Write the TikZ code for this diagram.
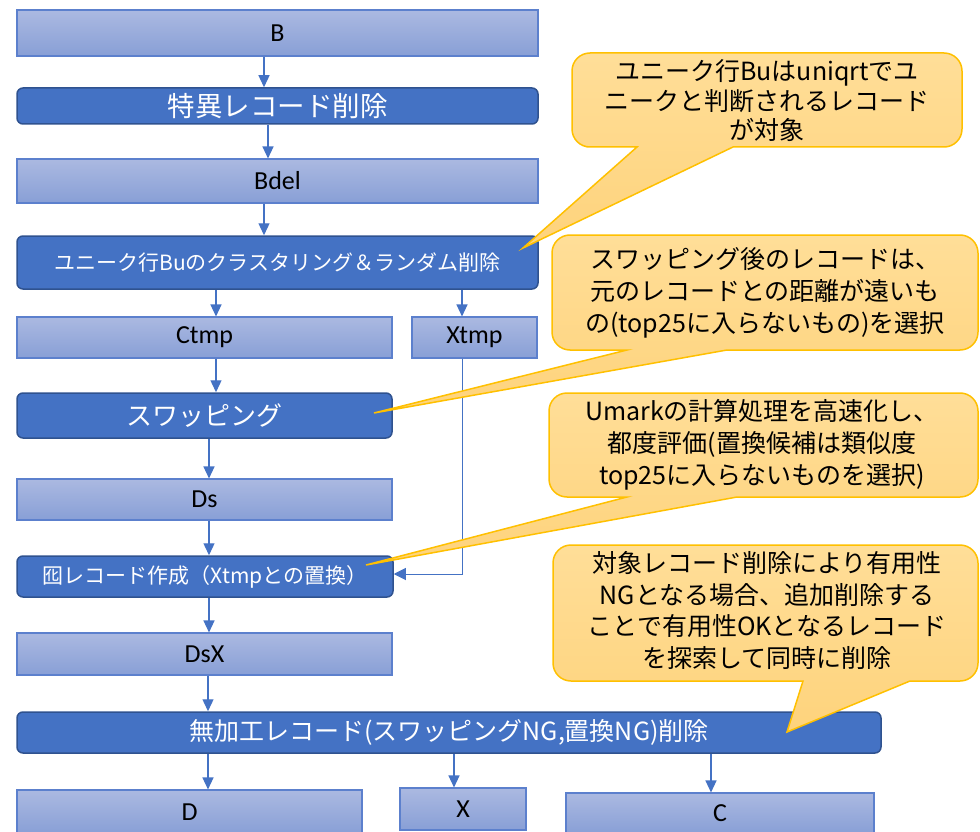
\documentclass[tikz,border=0pt]{standalone}
\usepackage{fontspec}
\setmainfont{Noto Sans CJK JP}
\newfontfamily\latf{Carlito}
\usetikzlibrary{arrows.meta}
\definecolor{acc}{HTML}{4472C4}
\definecolor{accdark}{HTML}{2F528F}
\definecolor{databorder}{RGB}{92,128,205}
\definecolor{datatop}{RGB}{171,185,225}
\definecolor{databot}{RGB}{136,159,214}
\definecolor{calltop}{RGB}{255,222,152}
\definecolor{callbot}{RGB}{254,211,124}
\definecolor{callline}{HTML}{FFC000}
\newcommand\datafont{\latf\fontsize{26}{26}\selectfont}
\newcommand\mycallout[8]{%
  \path[callout] (#5,#4) -- (#7,#8) -- (#6,#4) -- ({(#6+#3)/2},#4)
    [rounded corners=18pt] -- (#3,#4) -- (#3,#2) -- (#1,#2) -- (#1,#4) -- ({(#1+#5)/2},#4)
    [sharp corners] -- cycle;}
\begin{document}
\begin{tikzpicture}[x=1pt,y=-1pt,
  databox/.style 2 args={draw=databorder, line width=1.1pt, top color=datatop, bottom color=databot,
    minimum width=#1, minimum height=#2, inner sep=0pt, font=\datafont, text=black},
  procbox/.style 2 args={draw=accdark, line width=1.5pt, fill=acc, rounded corners=6pt,
    minimum width=#1, minimum height=#2, inner sep=0pt, text=white},
  arr/.style={draw=acc, line width=1.3pt, -{Triangle[length=12pt,width=11pt]}},
  thinarr/.style={draw=acc, line width=1pt, -{Triangle[length=12pt,width=12pt]}},
  callout/.style={draw=callline, line width=1.5pt, top color=calltop, bottom color=callbot},
  ctext/.style={align=center, text=black, inner sep=0pt},
]
\useasboundingbox (0,0) rectangle (980,832);

% data boxes
\node[databox={521pt}{46pt}] (B) at (277.5,33) {B};
\node[databox={521pt}{44pt}] (Bdel) at (277.5,181) {Bdel};
\node[databox={375pt}{41pt}] (Ctmp) at (204.5,337.5) {Ctmp};
\node[databox={125pt}{41pt}] (Xtmp) at (474.5,337.5) {Xtmp};
\node[databox={375pt}{41pt}] (Ds) at (204.5,499.5) {Ds};
\node[databox={375pt}{42pt}] (DsX) at (204.5,654) {DsX};
\node[databox={345pt}{44pt}] (D) at (189.5,812) {D};
\node[databox={126pt}{42pt}] (X) at (463,809) {X};
\node[databox={308pt}{41pt}] (C) at (720,813.5) {C};

% process boxes
\node[procbox={521pt}{36pt}, font=\fontsize{27.5}{28}\selectfont] (T1) at (277.5,106) {特異レコード削除};
\node[procbox={521pt}{53pt}, font=\fontsize{21}{22}\selectfont] (U) at (277.5,262.5) {ユニーク行Buのクラスタリング＆ランダム削除};
\node[procbox={375pt}{45pt}, font=\fontsize{26}{27}\selectfont] (S) at (204.5,415.5) {スワッピング};
\node[procbox={376pt}{41pt}, font=\fontsize{21}{22}\selectfont] (O) at (205,576.5) {囮レコード作成（Xtmpとの置換）};
\node[procbox={864pt}{41pt}, font=\fontsize{25}{26}\selectfont] (M) at (449,732.5) {無加工レコード(スワッピングNG,置換NG)削除};

% connector x positions
\coordinate (xa) at (264,0);
\coordinate (xb) at (268,0);
\coordinate (xc) at (216,0);
\coordinate (xd) at (462,0);
\coordinate (xe) at (209,0);
\coordinate (xf) at (208,0);
\coordinate (xg) at (454,0);
\coordinate (xh) at (711,0);
\coordinate (xj) at (462,574);

\draw[arr] (B.south -| xa) -- (T1.north -| xa);
\draw[arr] (T1.south -| xb) -- (Bdel.north -| xb);
\draw[arr] (Bdel.south -| xa) -- (U.north -| xa);
\draw[arr] (U.south -| xc) -- (Ctmp.north -| xc);
\draw[arr] (U.south -| xd) -- (Xtmp.north -| xd);
\draw[arr] (Ctmp.south -| xc) -- (S.north -| xc);
\draw[arr] (S.south -| xe) -- (Ds.north -| xe);
\draw[arr] (Ds.south -| xe) -- (O.north -| xe);
\draw[arr] (O.south -| xe) -- (DsX.north -| xe);
\draw[arr] (DsX.south -| xf) -- (M.north -| xf);
\draw[arr] (M.south -| xf) -- (D.north -| xf);
\draw[arr] (M.south -| xg) -- (X.north -| xg);
\draw[arr] (M.south -| xh) -- (C.north -| xh);
\draw[thinarr] (Xtmp.south -| xj) -- (xj) -- (O.east |- xj);

% callouts
\mycallout{572}{53}{962}{147}{637}{733}{523}{248}
\node[ctext, font=\fontsize{25}{29.5}\selectfont] (c1) at (767,101)
  {ユニーク行Buはuniqrtでユ\\ニークと判断されるレコード\\が対象};
\mycallout{552}{235}{978}{350}{627}{727}{374}{413}
\node[ctext, font=\fontsize{25}{32}\selectfont] (c2) at (765,292.5)
  {スワッピング後のレコードは、\\元のレコードとの距離が遠いも\\の(top25に入らないもの)を選択};
\mycallout{549}{393}{978}{497}{627}{737}{366}{565}
\node[ctext, font=\fontsize{25}{32}\selectfont] (c3) at (762,445)
  {Umarkの計算処理を高速化し、\\都度評価(置換候補は類似度\\top25に入らないものを選択)};
\mycallout{553}{545}{978}{681}{803}{910}{787}{732}
\node[ctext, font=\fontsize{25}{31.5}\selectfont] (c4) at (767,610.5)
  {対象レコード削除により有用性\\NGとなる場合、追加削除する\\ことで有用性OKとなるレコード\\を探索して同時に削除};
\end{tikzpicture}
\end{document}
